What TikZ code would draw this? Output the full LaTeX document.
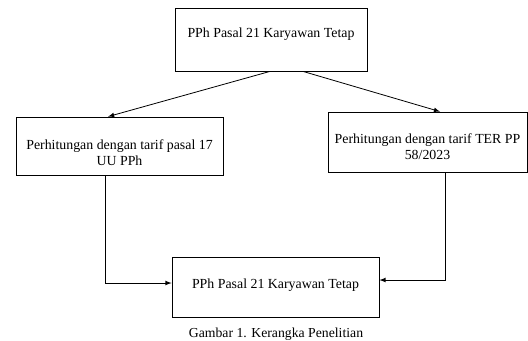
\documentclass[tikz,border=0pt]{standalone}
\usepackage{fontspec}
\setmainfont{Liberation Serif}
\begin{document}
\begin{tikzpicture}[>=latex, x=0.75pt, y=-0.75pt, line width=0.6pt,
    kotak/.style={draw, rectangle, align=center, font=\fontsize{10.4}{12}\selectfont}]
\useasboundingbox (0,0) rectangle (528,340);
\node[kotak, minimum width=144pt, minimum height=47.25pt] (atas) at (271,39.5) {\rule[-10.5pt]{0pt}{1pt}PPh Pasal 21 Karyawan Tetap};
\node[kotak, minimum width=155.25pt, minimum height=43.5pt] (kiri) at (119.5,146) {\rule{0pt}{17pt}Perhitungan dengan tarif pasal 17\\UU PPh};
\node[kotak, minimum width=149.25pt, minimum height=45pt] (kanan) at (427.5,142) {\rule{0pt}{14pt}Perhitungan dengan tarif TER PP\\58/2023};
\node[kotak, minimum width=155.25pt, minimum height=45pt] (bawah) at (275.5,287) {\rule[-5pt]{0pt}{1pt}PPh Pasal 21 Karyawan Tetap};
\draw[->] ([xshift=-0.75pt]atas.south) -- ([xshift=-8.6pt]kiri.north);
\draw[->] ([xshift=24pt]atas.south) -- ([xshift=9.4pt]kanan.north);
\draw[->] ([xshift=-10.9pt]kiri.south) |- ([yshift=3pt]bawah.west);
\draw[->] ([xshift=13.1pt]kanan.south) |- ([yshift=5.25pt]bawah.east);
\node[font=\fontsize{10.3}{12}\selectfont] (judul) at (276,334) {Gambar 1. Kerangka Penelitian};
\end{tikzpicture}
\end{document}
